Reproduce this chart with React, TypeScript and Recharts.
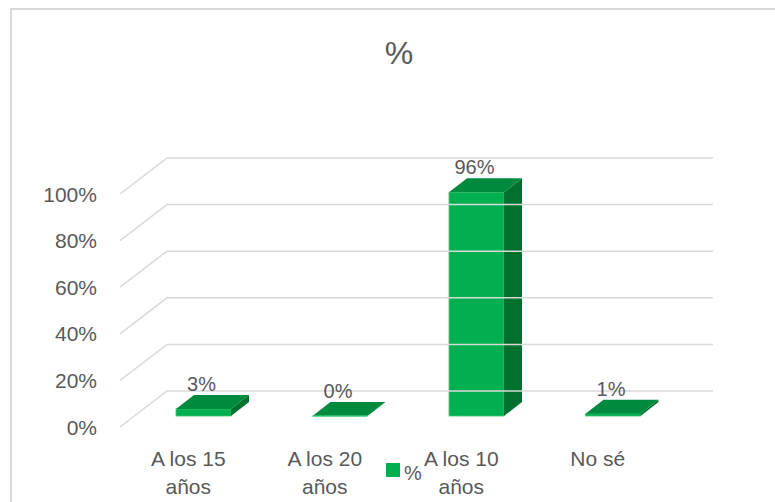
import { BarChart, Bar, XAxis, YAxis, Legend, LabelList } from "recharts";

const categories = ["A los 15 años", "A los 20 años", "A los 10 años", "No sé"];
const values = [0.03, 0, 0.96, 0.01];
const yTicks = [0, 0.2, 0.4, 0.6, 0.8, 1];
const seriesName = "%";

const data = categories.map((name, i) => ({ name, value: values[i] }));

const FONT = "'Liberation Sans', Arial, sans-serif";
const TEXT = "#595959";
const GRID = "#D9D9D9";
const FRONT = "#00B050";
const TOP = "#008A3E";
const SIDE = "#00702F";

// 3D offsets: bar sits partway into the depth, depth of bar itself
const OFF_X = 15;
const OFF_Y = -11;
const DX = 18;
const DY = -14;
// wall depth for gridlines
const WALL_DX = 47;
const WALL_DY = -36;
const PLOT_RIGHT_BACK = 713;

function YTick(props: any) {
  const { x, y, payload } = props;
  const x0 = x;
  return (
    <g>
      <polyline
        points={`${x0},${y} ${x0 + WALL_DX},${y + WALL_DY} ${PLOT_RIGHT_BACK},${y + WALL_DY}`}
        fill="none"
        stroke={GRID}
        strokeWidth={1.5}
      />
      <text
        x={x0 - 23}
        y={y}
        textAnchor="end"
        dominantBaseline="central"
        fill={TEXT}
        fontSize={21}
        fontFamily={FONT}
      >
        {Math.round(payload.value * 100)}%
      </text>
    </g>
  );
}

function XTick(props: any) {
  const { x, y, payload } = props;
  const label: string = payload.value;
  const lines = label.endsWith(" años") ? [label.slice(0, -5), "años"] : [label];
  return (
    <g>
      {lines.map((ln, i) => (
        <text
          key={i}
          x={x}
          y={y + 31 + i * 28}
          textAnchor="middle"
          dominantBaseline="central"
          fill={TEXT}
          fontSize={21}
          fontFamily={FONT}
        >
          {ln}
        </text>
      ))}
    </g>
  );
}

function Bar3D(props: any) {
  const { x, y, width, height } = props;
  const fx = x + OFF_X;
  const fy = y + OFF_Y;
  const h = Math.max(height || 0, 0);
  return (
    <g>
      {h > 0 && (
        <rect x={fx} y={fy} width={width} height={h} fill={FRONT} stroke="#3DC575" strokeWidth={0.8} />
      )}
      {h > 0 && (
        <polygon
          points={`${fx + width},${fy} ${fx + width + DX},${fy + DY} ${fx + width + DX},${fy + DY + h} ${fx + width},${fy + h}`}
          fill={SIDE}
        />
      )}
      <polygon
        points={`${fx},${fy} ${fx + DX},${fy + DY} ${fx + width + DX},${fy + DY} ${fx + width},${fy}`}
        fill={TOP}
      />
      {h === 0 && <line x1={fx} y1={fy} x2={fx + width} y2={fy} stroke="#3DC575" strokeWidth={1.5} />}
    </g>
  );
}

function DataLabel(props: any) {
  const { x, y, width, value } = props;
  return (
    <text
      x={x + width / 2 + OFF_X - 2}
      y={y - 36}
      textAnchor="middle"
      dominantBaseline="central"
      fill={TEXT}
      fontSize={20}
      fontFamily={FONT}
    >
      {Math.round(value * 100)}%
    </text>
  );
}

function LegendContent() {
  return (
    <div style={{ position: "relative", width: 40, height: 30, fontFamily: FONT, color: TEXT, fontSize: 20 }}>
      <div style={{ position: "absolute", left: 0, top: 1, width: 14, height: 14, background: FRONT }} />
      <span style={{ position: "absolute", left: 18, top: -1, lineHeight: "24px" }}>{seriesName}</span>
    </div>
  );
}

export default function App() {
  return (
    <div style={{ position: "absolute", left: 0, top: 0, width: 775, height: 502, background: "#fff", overflow: "hidden" }}>
      <div
        style={{
          position: "absolute",
          left: 10,
          top: 8,
          width: 800,
          height: 600,
          borderLeft: `2px solid ${GRID}`,
          borderTop: `2px solid ${GRID}`,
        }}
      />
      <div
        style={{
          position: "absolute",
          left: 0,
          width: 798,
          top: 34,
          textAlign: "center",
          fontFamily: FONT,
          fontSize: 32,
          color: TEXT,
          lineHeight: "38px",
        }}
      >
        {seriesName}
      </div>
      <div style={{ position: "absolute", left: 0, top: 0 }}>
        <BarChart width={775} height={502} data={data} margin={{ top: 194, right: 109, bottom: 0, left: 0 }} barSize={55}>
          <YAxis
            domain={[0, 1]}
            ticks={yTicks}
            width={120}
            axisLine={false}
            tickLine={false}
            tickSize={0}
            tickMargin={0}
            tick={<YTick />}
            interval={0}
          />
          <XAxis
            dataKey="name"
            height={75}
            axisLine={false}
            tickLine={false}
            tickSize={0}
            tickMargin={0}
            tick={<XTick />}
            interval={0}
          />
          <Legend
            layout="horizontal"
            verticalAlign="middle"
            align="center"
            content={<LegendContent />}
            wrapperStyle={{ left: 386, top: 462, width: 40, height: 30 }}
          />
          <Bar dataKey="value" name={seriesName} shape={<Bar3D />} isAnimationActive={false}>
            <LabelList dataKey="value" content={<DataLabel />} />
          </Bar>
        </BarChart>
      </div>
    </div>
  );
}
